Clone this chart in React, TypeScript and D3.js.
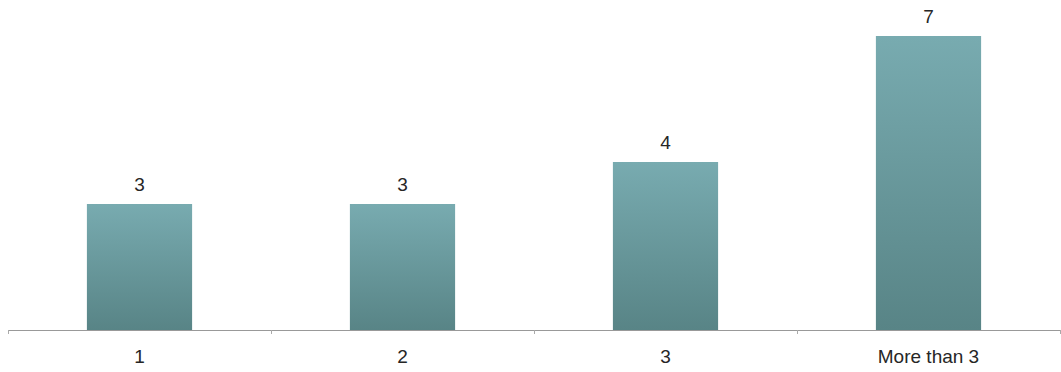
import React from 'react';
import * as d3 from 'd3';

const categories = ['1', '2', '3', 'More than 3'];
const values = [3, 3, 4, 7];

const App = () => {
  const width = 1061;
  const height = 372;
  const left = 8;
  const right = 1060;
  const baseline = 330;

  const x = d3
    .scaleBand<string>()
    .domain(categories)
    .range([left, right])
    .paddingInner(0.6)
    .paddingOuter(0.3);

  const y = d3.scaleLinear().domain([0, 7]).range([baseline, 36]);

  const step = x.step();
  // tick marks sit on the category boundaries
  const tickXs = categories.map((c) => (x(c) as number) - step * 0.3);
  tickXs.push(right);

  return (
    <svg
      width={width}
      height={height}
      style={{ position: 'absolute', left: 0, top: 0, background: '#fff' }}
      fontFamily="'Liberation Sans', Arial, sans-serif"
    >
      <defs>
        <linearGradient id="barFill" x1="0" y1="0" x2="0" y2="1">
          <stop offset="0%" stopColor="#78abb0" />
          <stop offset="100%" stopColor="#588486" />
        </linearGradient>
      </defs>

      {categories.map((c, i) => (
        <g key={c}>
          <rect
            x={x(c)}
            y={y(values[i])}
            width={x.bandwidth()}
            height={baseline - y(values[i])}
            fill="url(#barFill)"
          />
          <text
            x={(x(c) as number) + x.bandwidth() / 2}
            y={y(values[i]) - 13}
            textAnchor="middle"
            fontSize={19}
            fill="#262626"
          >
            {values[i]}
          </text>
          <text
            x={(x(c) as number) + x.bandwidth() / 2}
            y={363}
            textAnchor="middle"
            fontSize={19}
            fill="#262626"
          >
            {c}
          </text>
        </g>
      ))}

      <line x1={left} x2={right} y1={baseline + 0.5} y2={baseline + 0.5} stroke="#999" />
      {tickXs.map((t, i) => (
        <line
          key={i}
          x1={t + 0.5}
          x2={t + 0.5}
          y1={baseline}
          y2={baseline + 4}
          stroke="#aaa"
        />
      ))}
    </svg>
  );
};

export default App;
